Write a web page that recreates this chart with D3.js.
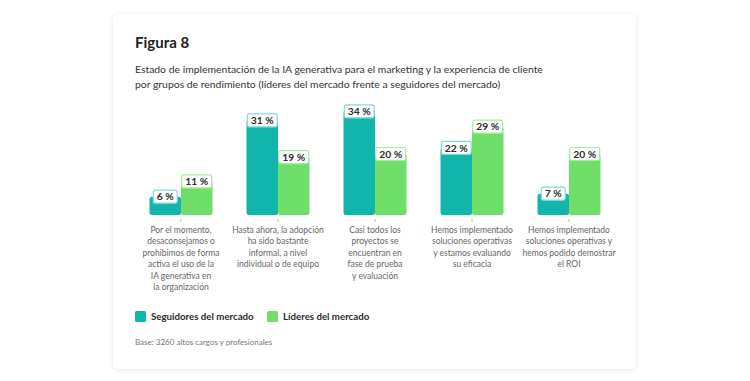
<!DOCTYPE html>
<html>
<head>
<meta charset="utf-8">
<script src="https://cdn.jsdelivr.net/npm/d3@7"></script>
<style>
  html, body { margin: 0; padding: 0; background: #ffffff; }
  svg { display: block; font-family: Lato, "Open Sans", sans-serif; }
</style>
</head>
<body>
<svg id="chart" width="750" height="381"></svg>
<script>
// ---- data ----
const categories = ["prohibido", "informal", "prueba", "evaluando", "roi"];
const categoryLabels = [
  ["Por el momento,", "desaconsejamos o", "prohibimos de forma", "activa el uso de la", "IA generativa en", "la organización"],
  ["Hasta ahora, la adopción", "ha sido bastante", "informal, a nivel", "individual o de equipo"],
  ["Casi todos los", "proyectos se", "encuentran en", "fase de prueba", "y evaluación"],
  ["Hemos implementado", "soluciones operativas", "y estamos evaluando", "su eficacia"],
  ["Hemos implementado", "soluciones operativas y", "hemos podido demostrar", "el ROI"]
];
const seriesNames = ["Seguidores del mercado", "Líderes del mercado"];
const seguidores = [6, 31, 34, 22, 7];
const lideres = [11, 19, 20, 29, 20];
const titleText = "Figura 8";
const subtitleLines = [
  "Estado de implementación de la IA generativa para el marketing y la experiencia de cliente",
  "por grupos de rendimiento (líderes del mercado frente a seguidores del mercado)"
];
const baseNote = "Base: 3260 altos cargos y profesionales";

// ---- styles ----
const colors = ["#12b5ac", "#6fdf69"];
const borderColors = ["#86d9d3", "#a9eaa5"];

const svg = d3.select("#chart");

// card with shadow
const defs = svg.append("defs");
const f = defs.append("filter").attr("id", "sh").attr("x", "-10%").attr("y", "-10%").attr("width", "120%").attr("height", "120%");
f.append("feDropShadow").attr("dx", 0).attr("dy", 1).attr("stdDeviation", 2.5).attr("flood-color", "#000").attr("flood-opacity", 0.10);

svg.append("rect")
  .attr("x", 113).attr("y", 14).attr("width", 523).attr("height", 355)
  .attr("rx", 6).attr("fill", "#fff").attr("filter", "url(#sh)");

svg.append("text").attr("x", 135).attr("y", 48)
  .attr("font-size", 15).attr("font-weight", 700).attr("fill", "#222")
  .text(titleText);

svg.append("g").selectAll("text").data(subtitleLines).join("text")
  .attr("x", 135).attr("y", (d, i) => 73 + i * 14.5)
  .attr("font-size", 10.4).attr("fill", "#333")
  .text(d => d);

// scales
const x = d3.scaleBand().domain(categories).range([132.5, 617.5]).padding(0);
const xi = d3.scaleBand().domain([0, 1]).range([-31.5, 31.5]).padding(0);
const y = d3.scaleLinear().domain([0, 35]).range([215, 108.25]);

const data = categories.map((c, i) => ({ c, vals: [seguidores[i], lideres[i]] }));

const groups = svg.append("g").selectAll("g").data(data).join("g")
  .attr("transform", d => `translate(${x(d.c) + x.bandwidth() / 2},0)`);

groups.selectAll("rect.bar").data(d => d.vals.map((v, s) => ({ v, s }))).join("rect")
  .attr("class", "bar")
  .attr("x", d => xi(d.s)).attr("width", xi.bandwidth())
  .attr("y", d => y(d.v)).attr("height", d => y(0) - y(d.v))
  .attr("rx", 2.5)
  .attr("fill", d => colors[d.s]);

// value labels
const lbl = groups.selectAll("g.lbl").data(d => d.vals.map((v, s) => ({ v, s }))).join("g")
  .attr("class", "lbl")
  .attr("transform", d => `translate(${xi(d.s) + xi.bandwidth() / 2},${y(d.v)})`);
lbl.each(function(d) {
  const g = d3.select(this);
  const t = g.append("text").attr("text-anchor", "middle").attr("dy", "0.36em")
    .attr("font-size", 10.3).attr("font-weight", 700).attr("fill", "#2b2b2b")
    .text(d.v + " %");
  const w = t.node().getComputedTextLength() + 7;
  g.insert("rect", "text")
    .attr("x", -w / 2).attr("y", -6.5).attr("width", w).attr("height", 13)
    .attr("rx", 2).attr("fill", "#fff")
    .attr("stroke", borderColors[d.s]).attr("stroke-width", 1.2);
});

// axis ticks
const axis = d3.axisBottom(x).tickSize(3).tickFormat("");
const ax = svg.append("g").attr("transform", "translate(0,219)").call(axis);
ax.select(".domain").remove();
ax.selectAll(".tick line").attr("stroke", "#bbb");

// category labels
groups.append("text")
  .attr("text-anchor", "middle").attr("font-size", 8.5).attr("fill", "#666")
  .selectAll("tspan").data((d, i) => categoryLabels[i]).join("tspan")
  .attr("x", 0).attr("y", (d, i) => 233 + i * 11.4)
  .text(d => d);

// legend
const legendX = [135, 267];
const leg = svg.append("g").selectAll("g").data(seriesNames).join("g")
  .attr("transform", (d, i) => `translate(${legendX[i]},311)`);
leg.append("rect").attr("width", 11).attr("height", 11).attr("rx", 1.5)
  .attr("fill", (d, i) => colors[i]);
leg.append("text").attr("x", 16).attr("y", 9)
  .attr("font-size", 9.7).attr("font-weight", 700).attr("fill", "#2b2b2b")
  .text(d => d);

svg.append("text").attr("x", 135).attr("y", 345)
  .attr("font-size", 8).attr("fill", "#777").text(baseNote);
</script>
</body>
</html>
